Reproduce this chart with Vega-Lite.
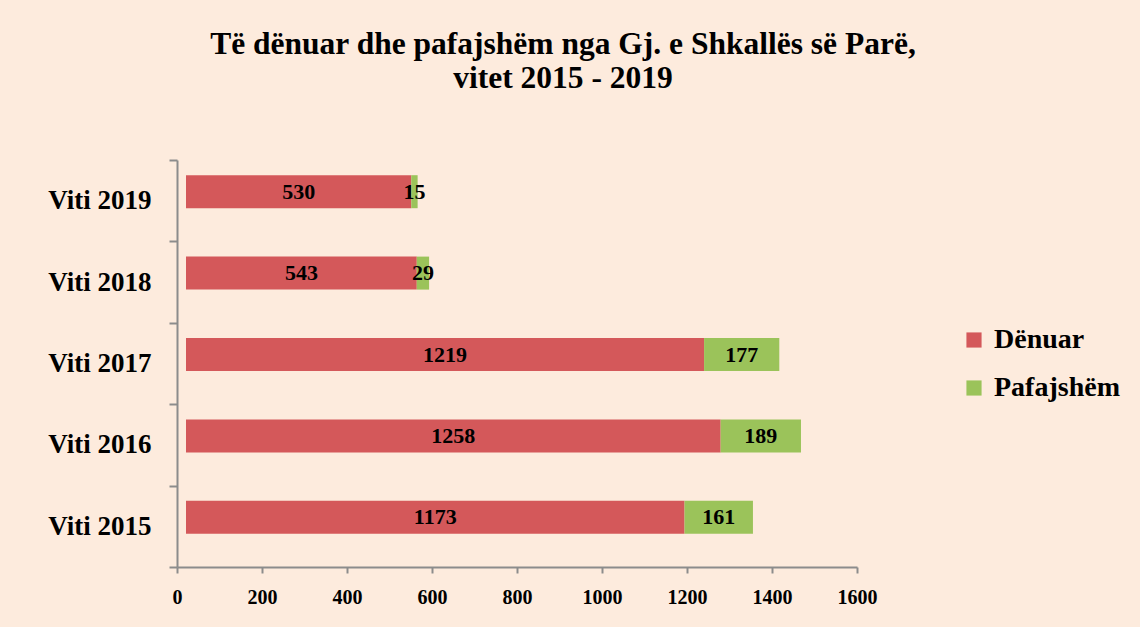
{
  "$schema": "https://vega.github.io/schema/vega-lite/v6.json",
  "width": 680,
  "height": 407,
  "autosize": {"type": "none"},
  "padding": {"left": 177, "top": 160, "right": 283, "bottom": 60},
  "background": "#FDEBDD",
  "config": {
    "view": {"stroke": null},
    "font": "Liberation Serif"
  },
  "title": {
    "text": ["Të dënuar dhe pafajshëm nga Gj. e Shkallës së Parë,", "vitet 2015 - 2019"],
    "font": "Liberation Serif",
    "fontSize": 31.5,
    "fontWeight": "bold",
    "color": "#000000",
    "anchor": "middle",
    "dx": 46,
    "offset": 52,
    "lineHeight": 34
  },
  "data": {
    "values": [
      {"viti": "Viti 2019", "lloji": "Dënuar", "vlera": 530, "rend": 1},
      {"viti": "Viti 2019", "lloji": "Pafajshëm", "vlera": 15, "rend": 2},
      {"viti": "Viti 2018", "lloji": "Dënuar", "vlera": 543, "rend": 1},
      {"viti": "Viti 2018", "lloji": "Pafajshëm", "vlera": 29, "rend": 2},
      {"viti": "Viti 2017", "lloji": "Dënuar", "vlera": 1219, "rend": 1},
      {"viti": "Viti 2017", "lloji": "Pafajshëm", "vlera": 177, "rend": 2},
      {"viti": "Viti  2016", "lloji": "Dënuar", "vlera": 1258, "rend": 1},
      {"viti": "Viti  2016", "lloji": "Pafajshëm", "vlera": 189, "rend": 2},
      {"viti": "Viti  2015", "lloji": "Dënuar", "vlera": 1173, "rend": 1},
      {"viti": "Viti  2015", "lloji": "Pafajshëm", "vlera": 161, "rend": 2}
    ]
  },
  "encoding": {
    "y": {
      "field": "viti",
      "type": "nominal",
      "sort": ["Viti 2019", "Viti 2018", "Viti 2017", "Viti  2016", "Viti  2015"],
      "scale": {"paddingInner": 0, "paddingOuter": 0},
      "axis": {
        "title": null,
        "labelFont": "Liberation Serif",
        "labelFontSize": 27,
        "labelFontWeight": "bold",
        "labelColor": "#000000",
        "labelPadding": 18,
        "tickBand": "extent",
        "tickSize": 8,
        "tickColor": "#8C8C8C",
        "domainColor": "#8C8C8C",
        "domainWidth": 2,
        "tickWidth": 2
      }
    },
    "x": {
      "field": "vlera",
      "type": "quantitative",
      "stack": "zero",
      "scale": {"domain": [0, 1600], "nice": false},
      "axis": {
        "title": null,
        "values": [0, 200, 400, 600, 800, 1000, 1200, 1400, 1600],
        "format": "d",
        "labelFlush": false,
        "labelOverlap": false,
        "grid": false,
        "labelFont": "Liberation Serif",
        "labelFontSize": 20,
        "labelFontWeight": "bold",
        "labelColor": "#000000",
        "labelPadding": 14,
        "tickSize": 6,
        "tickColor": "#8C8C8C",
        "domainColor": "#8C8C8C",
        "domainWidth": 2,
        "tickWidth": 2
      }
    },
    "order": {"field": "rend", "type": "quantitative"}
  },
  "layer": [
    {
      "mark": {"type": "bar", "height": 33, "xOffset": 9, "yOffset": -9, "stroke": null},
      "encoding": {
        "color": {
          "field": "lloji",
          "type": "nominal",
          "scale": {"domain": ["Dënuar", "Pafajshëm"], "range": ["#D4585A", "#9BC35A"]},
          "legend": {
            "title": null,
            "orient": "none",
            "legendX": 783,
            "legendY": 166,
            "symbolType": "square",
            "symbolSize": 230,
            "symbolStrokeWidth": 0,
            "labelFont": "Liberation Serif",
            "labelFontSize": 28,
            "labelFontWeight": "bold",
            "labelColor": "#000000",
            "rowPadding": 20,
            "labelOffset": 6
          }
        }
      }
    },
    {
      "mark": {
        "type": "text",
        "font": "Liberation Serif",
        "fontSize": 22,
        "fontWeight": "bold",
        "color": "#000000",
        "xOffset": 9,
        "yOffset": -9,
        "align": "center",
        "baseline": "middle"
      },
      "encoding": {
        "x": {"field": "vlera", "type": "quantitative", "stack": "zero", "bandPosition": 0.5},
        "text": {"field": "vlera", "type": "quantitative"}
      }
    }
  ]
}
